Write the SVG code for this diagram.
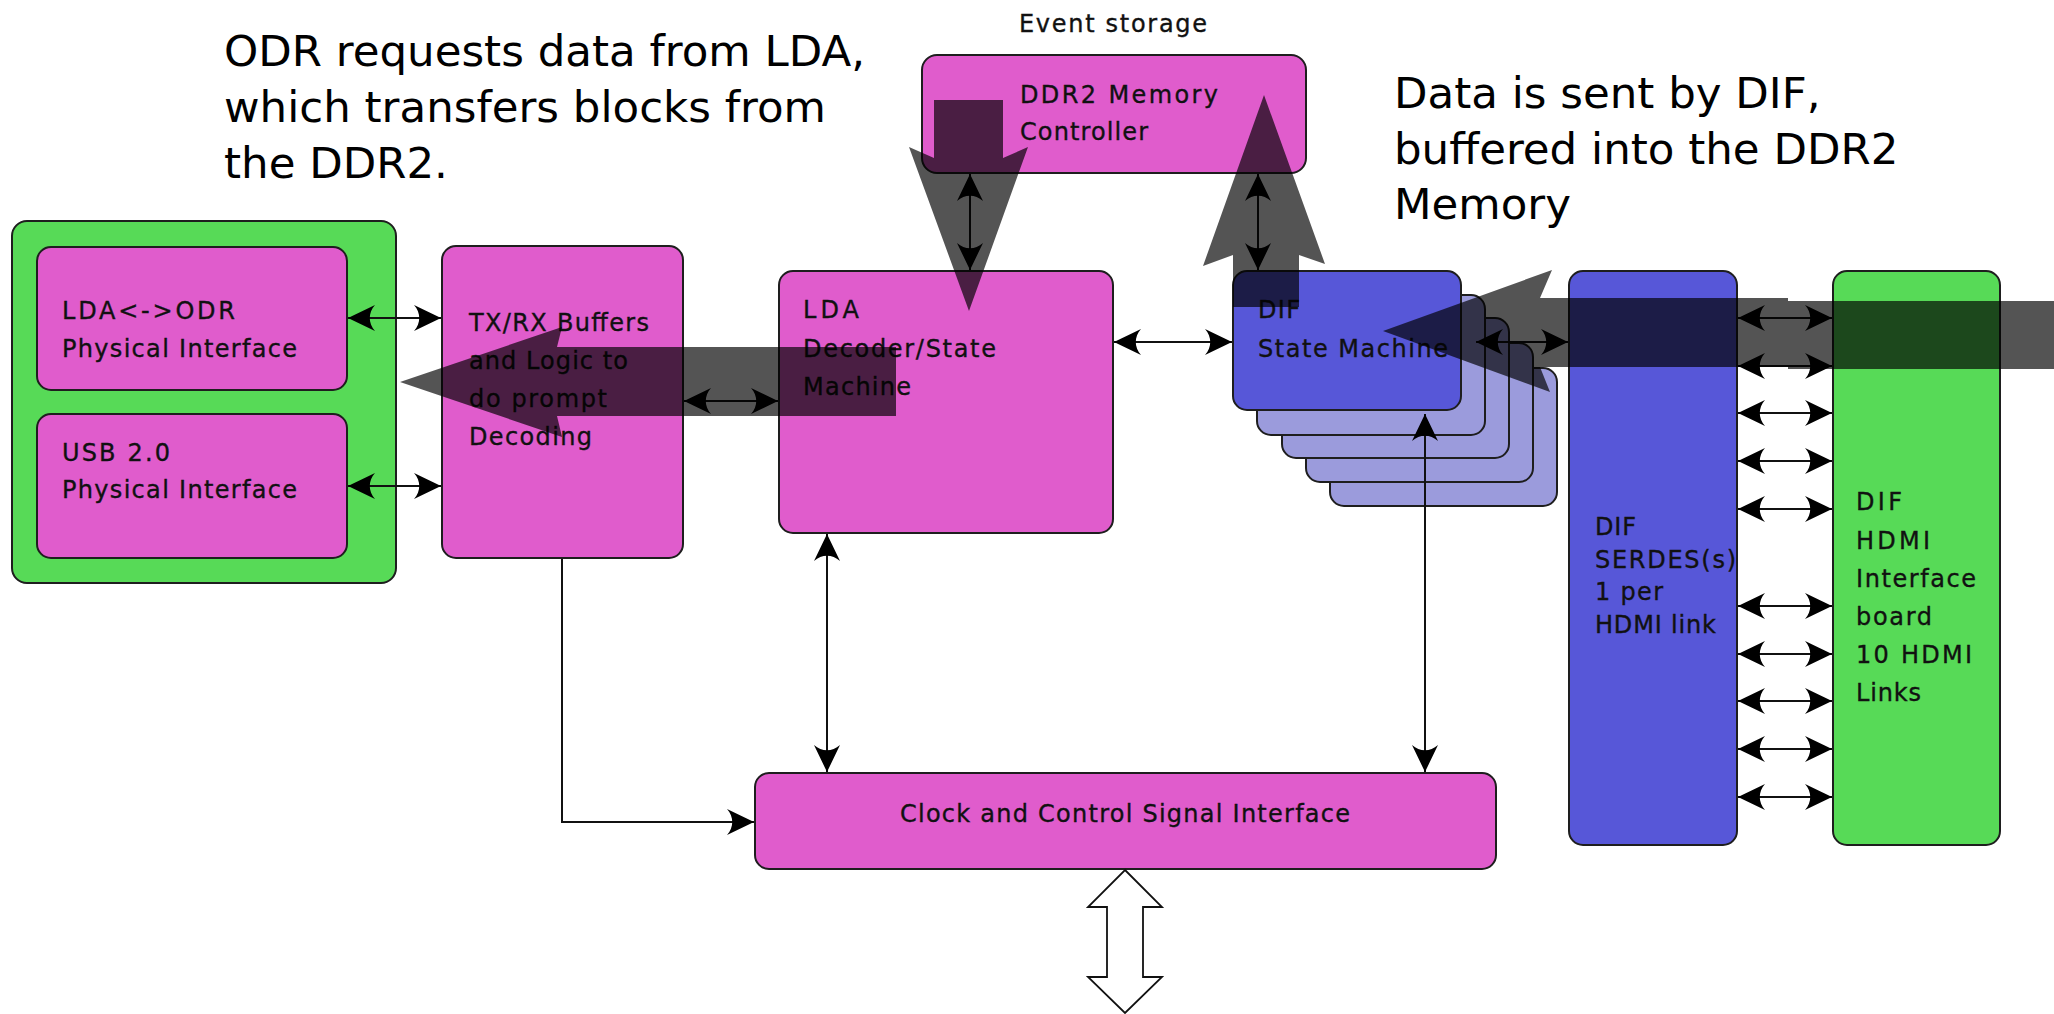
<svg xmlns="http://www.w3.org/2000/svg" width="2054" height="1014" viewBox="0 0 2054 1014">
  <style>
    .box { stroke: #1e1e1e; stroke-width: 2; }
    .mag { fill: #e05ccc; }
    .grn { fill: #57da57; }
    .blu { fill: #5757d8; }
    .stk { fill: #9b9bdc; }
    .lbl { font-family: "DejaVu Sans", "Liberation Sans", sans-serif; font-size: 24px; fill: #111; stroke: #111; stroke-width: 0.35; }
    .note { font-family: "DejaVu Sans", "Liberation Sans", sans-serif; font-size: 43.5px; fill: #000; }
    .wire { fill: none; stroke: #111; stroke-width: 2; }
    .dbl { marker-start: url(#head); marker-end: url(#head); }
    .one { marker-end: url(#head); }
    .flow { fill: #000; fill-opacity: 0.67; }
  </style>
  <defs>
    <marker id="head" markerUnits="userSpaceOnUse" markerWidth="1" markerHeight="1" refX="0" refY="0" orient="auto-start-reverse" overflow="visible">
      <path d="M0,0 L-27,-13 C-20,-5 -20,5 -27,13 Z" fill="#000"/>
    </marker>
  </defs>

  <rect width="2054" height="1014" fill="#fff"/>

  <!-- notes -->
  <g id="note-odr">
    <text class="note" x="224" y="66">ODR requests data from LDA,</text>
    <text class="note" x="224" y="122">which transfers blocks from</text>
    <text class="note" x="224" y="178">the DDR2.</text>
  </g>
  <g id="note-dif">
    <text class="note" x="1394" y="108">Data is sent by DIF,</text>
    <text class="note" x="1394" y="164">buffered into the DDR2</text>
    <text class="note" x="1394" y="219">Memory</text>
  </g>

  <!-- physical interfaces -->
  <g id="phy-board">
    <rect class="box grn" x="12" y="221" width="384" height="362" rx="15"/>
  </g>
  <g id="phy-lda-odr">
    <rect class="box mag" x="37" y="247" width="310" height="143" rx="14"/>
    <text class="lbl" x="62" y="319" textLength="173">LDA&lt;-&gt;ODR</text>
    <text class="lbl" x="62" y="357" textLength="235">Physical Interface</text>
  </g>
  <g id="phy-usb">
    <rect class="box mag" x="37" y="414" width="310" height="144" rx="14"/>
    <text class="lbl" x="62" y="461" textLength="108">USB 2.0</text>
    <text class="lbl" x="62" y="498" textLength="235">Physical Interface</text>
  </g>

  <g id="txrx">
    <rect class="box mag" x="442" y="246" width="241" height="312" rx="14"/>
    <text class="lbl" x="469" y="331" textLength="180">TX/RX Buffers</text>
    <text class="lbl" x="469" y="369" textLength="159">and Logic to</text>
    <text class="lbl" x="469" y="407" textLength="138">do prompt</text>
    <text class="lbl" x="469" y="445" textLength="123">Decoding</text>
  </g>

  <g id="lda">
    <rect class="box mag" x="779" y="271" width="334" height="262" rx="14"/>
    <text class="lbl" x="803" y="318" textLength="56">LDA</text>
    <text class="lbl" x="803" y="357" textLength="193">Decoder/State</text>
    <text class="lbl" x="803" y="395" textLength="108">Machine</text>
  </g>

  <g id="ddr2">
    <text class="lbl" x="1019" y="32" textLength="188">Event storage</text>
    <rect class="box mag" x="922" y="55" width="384" height="118" rx="15"/>
    <text class="lbl" x="1020" y="103" textLength="198">DDR2 Memory</text>
    <text class="lbl" x="1020" y="140" textLength="128">Controller</text>
  </g>

  <!-- DIF state machines, one per link, stacked -->
  <g id="dif-sm">
    <rect class="box stk" x="1330" y="368" width="227" height="138" rx="14"/>
    <rect class="box stk" x="1306" y="343" width="227" height="139" rx="14"/>
    <rect class="box stk" x="1282" y="318" width="227" height="140" rx="14"/>
    <rect class="box stk" x="1257" y="295" width="228" height="140" rx="14"/>
    <rect class="box blu" x="1233" y="271" width="228" height="139" rx="14"/>
    <text class="lbl" x="1258" y="318" textLength="42">DIF</text>
    <text class="lbl" x="1258" y="357" textLength="190">State Machine</text>
  </g>

  <g id="serdes">
    <rect class="box blu" x="1569" y="271" width="168" height="574" rx="14"/>
    <text class="lbl" x="1595" y="535" textLength="41">DIF</text>
    <text class="lbl" x="1595" y="568" textLength="141">SERDES(s)</text>
    <text class="lbl" x="1595" y="600" textLength="68">1 per</text>
    <text class="lbl" x="1595" y="633" textLength="121">HDMI link</text>
  </g>

  <g id="hdmi">
    <rect class="box grn" x="1833" y="271" width="167" height="574" rx="14"/>
    <text class="lbl" x="1856" y="510" textLength="46">DIF</text>
    <text class="lbl" x="1856" y="549" textLength="74">HDMI</text>
    <text class="lbl" x="1856" y="587" textLength="120">Interface</text>
    <text class="lbl" x="1856" y="625" textLength="76">board</text>
    <text class="lbl" x="1856" y="663" textLength="116">10 HDMI</text>
    <text class="lbl" x="1856" y="701" textLength="65">Links</text>
  </g>

  <g id="clock">
    <rect class="box mag" x="755" y="773" width="741" height="96" rx="14"/>
    <text class="lbl" x="900" y="822" textLength="450">Clock and Control Signal Interface</text>
  </g>

  <!-- external bus -->
  <g id="ext-bus">
    <polygon points="1125,870 1162,907 1143,907 1143,977 1162,977 1125,1013 1088,977 1107,977 1107,907 1088,907" fill="#fff" stroke="#111" stroke-width="1.8" stroke-linejoin="miter"/>
  </g>

  <!-- connectors -->
  <g id="connectors">
    <line class="wire dbl" x1="348" y1="318" x2="441" y2="318"/>
    <line class="wire dbl" x1="348" y1="486" x2="441" y2="486"/>
    <line class="wire dbl" x1="684" y1="401" x2="778" y2="401"/>
    <line class="wire dbl" x1="1114" y1="342" x2="1232" y2="342"/>
    <line class="wire dbl" x1="970" y1="174" x2="970" y2="270"/>
    <line class="wire dbl" x1="1258" y1="174" x2="1258" y2="270"/>
    <line class="wire dbl" x1="827" y1="534" x2="827" y2="772"/>
    <line class="wire dbl" x1="1425" y1="414" x2="1425" y2="772"/>
    <line class="wire dbl" x1="1476" y1="342" x2="1568" y2="342"/>
    <path class="wire one" d="M562,559 V822 H754"/>
    <line class="wire dbl" x1="1738" y1="318" x2="1832" y2="318"/>
    <line class="wire dbl" x1="1738" y1="366" x2="1832" y2="366"/>
    <line class="wire dbl" x1="1738" y1="413" x2="1832" y2="413"/>
    <line class="wire dbl" x1="1738" y1="461" x2="1832" y2="461"/>
    <line class="wire dbl" x1="1738" y1="509" x2="1832" y2="509"/>
    <line class="wire dbl" x1="1738" y1="606" x2="1832" y2="606"/>
    <line class="wire dbl" x1="1738" y1="654" x2="1832" y2="654"/>
    <line class="wire dbl" x1="1738" y1="701" x2="1832" y2="701"/>
    <line class="wire dbl" x1="1738" y1="749" x2="1832" y2="749"/>
    <line class="wire dbl" x1="1738" y1="797" x2="1832" y2="797"/>
  </g>

  <!-- data flow overlay -->
  <g id="data-flow">
    <polygon class="flow" points="934,100 1003,100 1003,158 1028,147 969,311 909,147 934,158"/>
    <polygon class="flow" points="1264,95 1325,264 1299,255 1299,307 1233,307 1233,255 1203,266"/>
    <polygon class="flow" points="400,382 562,327 557,347 896,347 896,416 557,416 562,437"/>
    <polygon class="flow" points="1383,331 1552,270 1540,298 1788,298 1788,301 2054,301 2054,369 1788,369 1788,367 1540,367 1550,392"/>
  </g>
</svg>
